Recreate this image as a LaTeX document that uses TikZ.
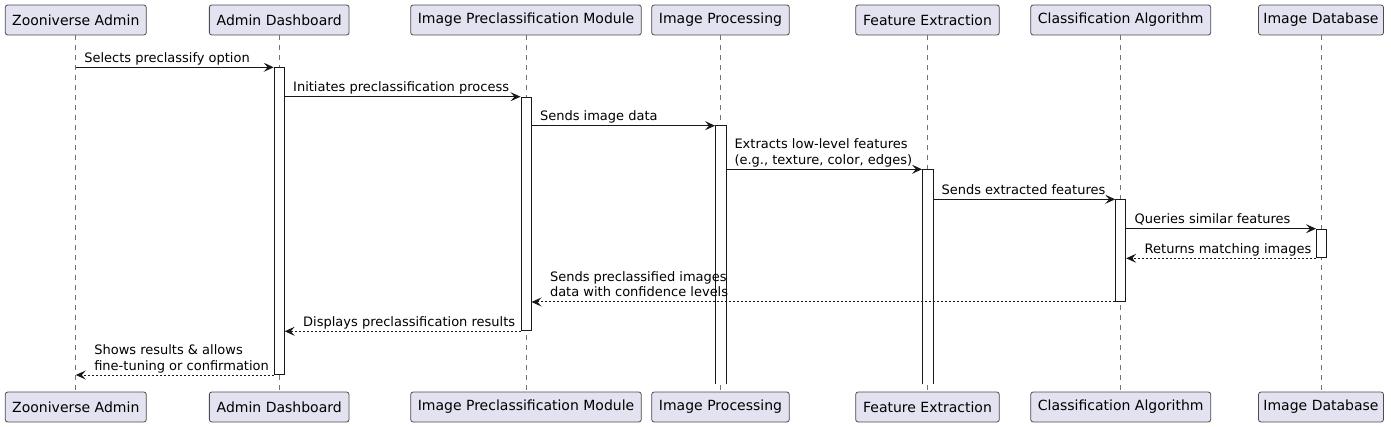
\documentclass[tikz,border=0pt]{standalone}
\usepackage{fontspec}
\setmainfont{DejaVu Sans}
\usetikzlibrary{arrows.meta}
\definecolor{partfill}{HTML}{E2E2F0}
\definecolor{ink}{HTML}{181818}
\newcommand{\msgtwo}[2]{\begin{tabular}[b]{@{}l@{}}#1\\#2\end{tabular}}
\begin{document}
\begin{tikzpicture}[x=1pt,y=-1pt,
  part/.style={draw=black!70, line width=0.8pt, fill=partfill, rounded corners=2.5pt,
    minimum height=30pt, inner sep=0pt, font=\fontsize{14}{16}\selectfont},
  life/.style={draw=black!55, line width=0.8pt, dash pattern=on 5pt off 5pt},
  actbar/.style={draw=ink, line width=1pt, fill=white, minimum width=10pt, inner sep=0pt, anchor=north},
  openbar/.style={actbar, draw=none},
  barside/.style={draw=ink, line width=1pt},
  msg/.style={draw=ink, line width=1pt, -{Stealth[length=10pt,width=9pt,inset=4pt]}},
  ret/.style={msg, dash pattern=on 2pt off 2pt},
  lbl/.style={font=\fontsize{13}{15.8}\selectfont, inner sep=0pt, anchor=base west, text=black},
  fwdlbl/.style={lbl, at start, xshift=8pt, yshift=5pt},
  retlbl/.style={lbl, at end, xshift=18pt, yshift=5pt}]
\useasboundingbox (0,0) rectangle (1391,427);

% participants top
\node[part, minimum width=141pt]   (tA) at (75.8,20)   {Zooniverse Admin};
\node[part, minimum width=139.7pt] (tB) at (279.2,20)  {Admin Dashboard};
\node[part, minimum width=230.6pt] (tC) at (526,20)    {Image Preclassification Module};
\node[part, minimum width=137.6pt] (tD) at (720.5,20)  {Image Processing};
\node[part, minimum width=143.6pt] (tE) at (927.5,20)  {Feature Extraction};
\node[part, minimum width=180pt]   (tF) at (1120.7,20) {Classification Algorithm};
\node[part, minimum width=125pt]   (tG) at (1321,20)   {Image Database};
% participants bottom
\node[part, minimum width=141pt]   (bA) at (75.8,407)   {Zooniverse Admin};
\node[part, minimum width=139.7pt] (bB) at (279.2,407)  {Admin Dashboard};
\node[part, minimum width=230.6pt] (bC) at (526,407)    {Image Preclassification Module};
\node[part, minimum width=137.6pt] (bD) at (720.5,407)  {Image Processing};
\node[part, minimum width=143.6pt] (bE) at (927.5,407)  {Feature Extraction};
\node[part, minimum width=180pt]   (bF) at (1120.7,407) {Classification Algorithm};
\node[part, minimum width=125pt]   (bG) at (1321,407)   {Image Database};

% lifelines
\foreach \p in {A,B,C,D,E,F,G}{\draw[life] (t\p.south) -- (b\p.north);}

% activation bars
\node[actbar, minimum height=306.7pt] (aB) at (279.2,67.3) {};
\node[actbar, minimum height=233.6pt] (aC) at (526,96.7) {};
\node[openbar, minimum height=257.3pt] (aD) at (720.5,125.7) {};
\node[openbar, minimum height=213.7pt] (aE) at (927.5,169.3) {};
\node[actbar, minimum height=101.7pt] (aF) at (1120.7,199.3) {};
\node[actbar, minimum height=28.6pt]  (aG) at (1321.5,228.7) {};
\draw[barside] (aD.south west) -- (aD.north west) -- (aD.north east) -- (aD.south east);
\draw[barside] (aE.south west) -- (aE.north west) -- (aE.north east) -- (aE.south east);

% messages
\draw[msg] (tA.south |- aB.north) -- (aB.north west)
  node[fwdlbl] {Selects preclassify option};
\draw[msg] (aB.east |- aC.north) -- (aC.north west)
  node[fwdlbl] {Initiates preclassification process};
\draw[msg] (aC.east |- aD.north) -- (aD.north west)
  node[fwdlbl] {Sends image data};
\draw[msg] (aD.east |- aE.north) -- (aE.north west)
  node[fwdlbl] {\msgtwo{Extracts low-level features}{(e.g., texture, color, edges)}};
\draw[msg] (aE.east |- aF.north) -- (aF.north west)
  node[fwdlbl] {Sends extracted features};
\draw[msg] (aF.east |- aG.north) -- (aG.north west)
  node[fwdlbl] {Queries similar features};
\draw[ret] (aG.south west) -- (aF.east |- aG.south)
  node[retlbl] {Returns matching images};
\draw[ret] (aF.south west) -- (aC.east |- aF.south)
  node[retlbl] {\msgtwo{Sends preclassified images}{data with confidence levels}};
\draw[ret] (aC.south west) -- (aB.east |- aC.south)
  node[retlbl] {Displays preclassification results};
\draw[ret] (aB.south west) -- (tA.south |- aB.south)
  node[retlbl] {\msgtwo{Shows results \& allows}{fine-tuning or confirmation}};
\end{tikzpicture}
\end{document}
